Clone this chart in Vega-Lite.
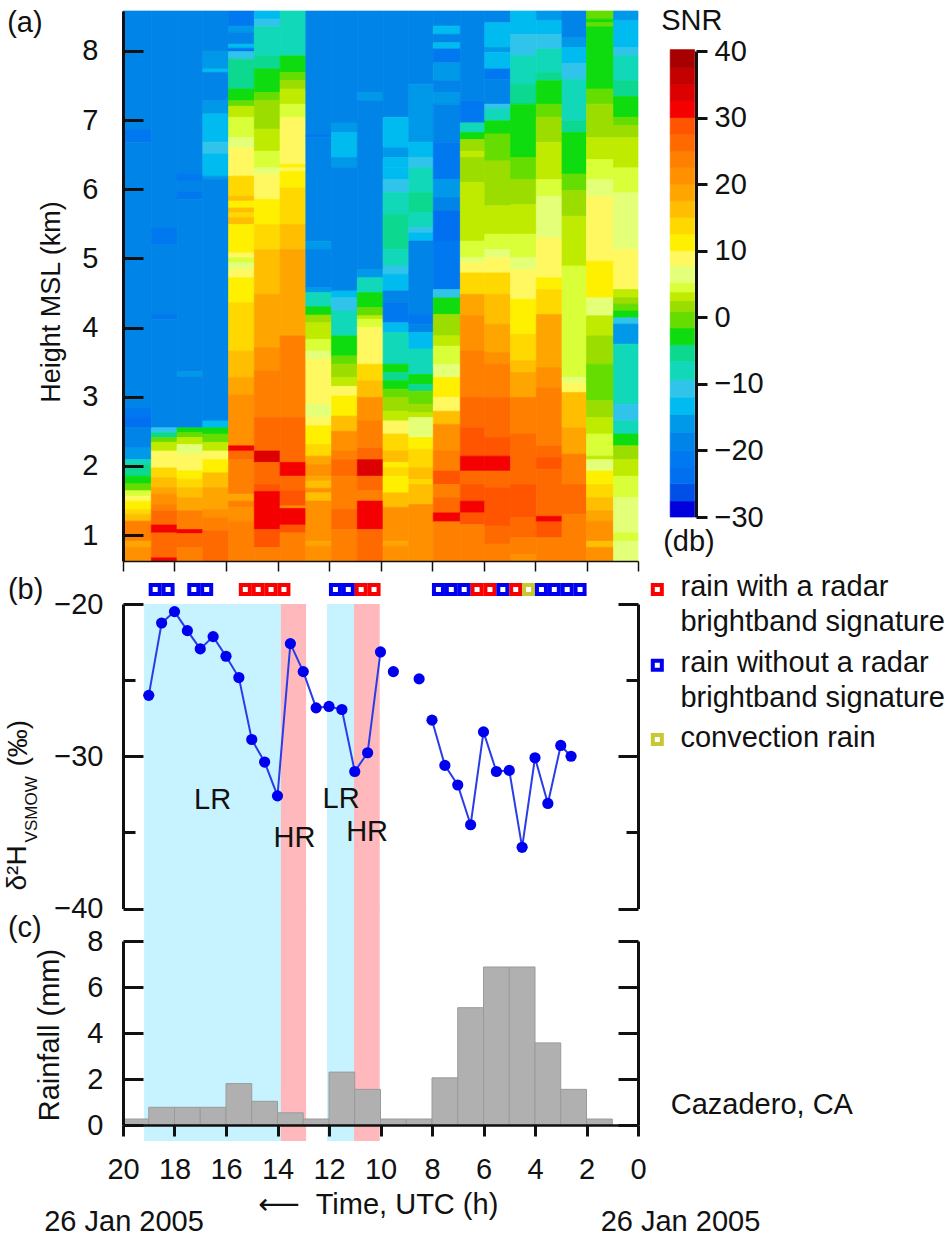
{
  "$schema": "https://vega.github.io/schema/vega-lite/v6.json",
  "background": "white",
  "padding": {"left": 3, "top": 7, "right": 0, "bottom": 0},
  "bounds": "flush",
  "spacing": 32,
  "config": {
    "view": {"stroke": null},
    "font": "Liberation Sans",
    "axis": {
      "labelFont": "Liberation Sans",
      "labelFontSize": 29,
      "labelColor": "#111111",
      "domainColor": "#111111",
      "tickColor": "#111111",
      "domainWidth": 3,
      "tickWidth": 3,
      "grid": false,
      "title": null
    },
    "text": {"font": "Liberation Sans", "fontSize": 29, "color": "#111111"}
  },
  "datasets": {
    "cells": [
      {"t0":20,"t1":18.9,"h0":6.87,"h1":8.578,"snr":-18.75},{"t0":20,"t1":18.9,"h0":6.68,"h1":6.87,"snr":-21.25},{"t0":20,"t1":18.9,"h0":2.84,"h1":6.68,"snr":-18.75},{"t0":20,"t1":18.9,"h0":2.70,"h1":2.84,"snr":-21.25},{"t0":20,"t1":18.9,"h0":2.55,"h1":2.70,"snr":-23.75},{"t0":20,"t1":18.9,"h0":2.26,"h1":2.55,"snr":-18.75},{"t0":20,"t1":18.9,"h0":2.09,"h1":2.26,"snr":-16},{"t0":20,"t1":18.9,"h0":2.02,"h1":2.09,"snr":-8},{"t0":20,"t1":18.9,"h0":1.85,"h1":2.02,"snr":-5.3},{"t0":20,"t1":18.9,"h0":1.74,"h1":1.85,"snr":-2.8},{"t0":20,"t1":18.9,"h0":1.64,"h1":1.74,"snr":-0.3},{"t0":20,"t1":18.9,"h0":1.56,"h1":1.64,"snr":4.5},{"t0":20,"t1":18.9,"h0":1.49,"h1":1.56,"snr":8.75},{"t0":20,"t1":18.9,"h0":1.37,"h1":1.49,"snr":11.25},{"t0":20,"t1":18.9,"h0":1.30,"h1":1.37,"snr":13.75},{"t0":20,"t1":18.9,"h0":1.20,"h1":1.30,"snr":16.25},{"t0":20,"t1":18.9,"h0":0.91,"h1":1.20,"snr":23.75},{"t0":20,"t1":18.9,"h0":0.82,"h1":0.91,"snr":18.75},{"t0":20,"t1":18.9,"h0":0.624,"h1":0.82,"snr":21.25},
      {"t0":18.9,"t1":17.9,"h0":5.44,"h1":8.578,"snr":-18.75},{"t0":18.9,"t1":17.9,"h0":5.20,"h1":5.44,"snr":-21.25},{"t0":18.9,"t1":17.9,"h0":4.19,"h1":5.20,"snr":-18.75},{"t0":18.9,"t1":17.9,"h0":4.12,"h1":4.19,"snr":-21.25},{"t0":18.9,"t1":17.9,"h0":2.55,"h1":4.12,"snr":-18.75},{"t0":18.9,"t1":17.9,"h0":2.48,"h1":2.55,"snr":-10.7},{"t0":18.9,"t1":17.9,"h0":2.41,"h1":2.48,"snr":-5.3},{"t0":18.9,"t1":17.9,"h0":2.34,"h1":2.41,"snr":-0.3},{"t0":18.9,"t1":17.9,"h0":2.215,"h1":2.34,"snr":3.2},{"t0":18.9,"t1":17.9,"h0":1.97,"h1":2.215,"snr":8.75},{"t0":18.9,"t1":17.9,"h0":1.83,"h1":1.97,"snr":13.75},{"t0":18.9,"t1":17.9,"h0":1.685,"h1":1.83,"snr":16.25},{"t0":18.9,"t1":17.9,"h0":1.59,"h1":1.685,"snr":18.75},{"t0":18.9,"t1":17.9,"h0":1.44,"h1":1.59,"snr":21.25},{"t0":18.9,"t1":17.9,"h0":1.35,"h1":1.44,"snr":23.75},{"t0":18.9,"t1":17.9,"h0":1.145,"h1":1.35,"snr":26.25},{"t0":18.9,"t1":17.9,"h0":1.03,"h1":1.145,"snr":31.25},{"t0":18.9,"t1":17.9,"h0":0.67,"h1":1.03,"snr":26.25},{"t0":18.9,"t1":17.9,"h0":0.624,"h1":0.67,"snr":31.25},
      {"t0":17.9,"t1":16.9,"h0":6.22,"h1":8.578,"snr":-18.75},{"t0":17.9,"t1":16.9,"h0":6.12,"h1":6.22,"snr":-21.25},{"t0":17.9,"t1":16.9,"h0":5.97,"h1":6.12,"snr":-18.75},{"t0":17.9,"t1":16.9,"h0":5.855,"h1":5.97,"snr":-21.25},{"t0":17.9,"t1":16.9,"h0":3.36,"h1":5.855,"snr":-18.75},{"t0":17.9,"t1":16.9,"h0":3.29,"h1":3.36,"snr":-16},{"t0":17.9,"t1":16.9,"h0":2.55,"h1":3.29,"snr":-18.75},{"t0":17.9,"t1":16.9,"h0":2.48,"h1":2.55,"snr":-2.8},{"t0":17.9,"t1":16.9,"h0":2.41,"h1":2.48,"snr":-0.3},{"t0":17.9,"t1":16.9,"h0":2.31,"h1":2.41,"snr":3.2},{"t0":17.9,"t1":16.9,"h0":2.17,"h1":2.31,"snr":6.3},{"t0":17.9,"t1":16.9,"h0":1.93,"h1":2.17,"snr":8.75},{"t0":17.9,"t1":16.9,"h0":1.805,"h1":1.93,"snr":11.25},{"t0":17.9,"t1":16.9,"h0":1.685,"h1":1.805,"snr":13.75},{"t0":17.9,"t1":16.9,"h0":1.54,"h1":1.685,"snr":16.25},{"t0":17.9,"t1":16.9,"h0":1.35,"h1":1.54,"snr":18.75},{"t0":17.9,"t1":16.9,"h0":1.08,"h1":1.35,"snr":23.75},{"t0":17.9,"t1":16.9,"h0":1.02,"h1":1.08,"snr":31.25},{"t0":17.9,"t1":16.9,"h0":0.82,"h1":1.02,"snr":26.25},{"t0":17.9,"t1":16.9,"h0":0.624,"h1":0.82,"snr":23.75},
      {"t0":16.9,"t1":15.9,"h0":8.0,"h1":8.578,"snr":-18.75},{"t0":16.9,"t1":15.9,"h0":7.74,"h1":8.0,"snr":-16},{"t0":16.9,"t1":15.9,"h0":7.69,"h1":7.74,"snr":-13.3},{"t0":16.9,"t1":15.9,"h0":7.28,"h1":7.69,"snr":-18.75},{"t0":16.9,"t1":15.9,"h0":7.09,"h1":7.28,"snr":-16},{"t0":16.9,"t1":15.9,"h0":6.68,"h1":7.09,"snr":-13.3},{"t0":16.9,"t1":15.9,"h0":6.51,"h1":6.68,"snr":-10.7},{"t0":16.9,"t1":15.9,"h0":6.19,"h1":6.51,"snr":-13.3},{"t0":16.9,"t1":15.9,"h0":6.14,"h1":6.19,"snr":-16},{"t0":16.9,"t1":15.9,"h0":2.65,"h1":6.14,"snr":-18.75},{"t0":16.9,"t1":15.9,"h0":2.55,"h1":2.65,"snr":-13.3},{"t0":16.9,"t1":15.9,"h0":2.46,"h1":2.55,"snr":-2.8},{"t0":16.9,"t1":15.9,"h0":2.34,"h1":2.46,"snr":-0.3},{"t0":16.9,"t1":15.9,"h0":2.215,"h1":2.34,"snr":3.2},{"t0":16.9,"t1":15.9,"h0":2.09,"h1":2.215,"snr":8.75},{"t0":16.9,"t1":15.9,"h0":1.90,"h1":2.09,"snr":11.25},{"t0":16.9,"t1":15.9,"h0":1.685,"h1":1.90,"snr":16.25},{"t0":16.9,"t1":15.9,"h0":1.37,"h1":1.685,"snr":18.75},{"t0":16.9,"t1":15.9,"h0":1.25,"h1":1.37,"snr":21.25},{"t0":16.9,"t1":15.9,"h0":1.06,"h1":1.25,"snr":23.75},{"t0":16.9,"t1":15.9,"h0":0.624,"h1":1.06,"snr":26.25},
      {"t0":15.9,"t1":14.9,"h0":8.36,"h1":8.578,"snr":-21.25},{"t0":15.9,"t1":14.9,"h0":8.27,"h1":8.36,"snr":-16},{"t0":15.9,"t1":14.9,"h0":8.10,"h1":8.27,"snr":-18.75},{"t0":15.9,"t1":14.9,"h0":8.04,"h1":8.10,"snr":-13.3},{"t0":15.9,"t1":14.9,"h0":7.99,"h1":8.04,"snr":-21.25},{"t0":15.9,"t1":14.9,"h0":7.88,"h1":7.99,"snr":-10.7},{"t0":15.9,"t1":14.9,"h0":7.45,"h1":7.88,"snr":-5.3},{"t0":15.9,"t1":14.9,"h0":7.28,"h1":7.45,"snr":-2.8},{"t0":15.9,"t1":14.9,"h0":7.20,"h1":7.28,"snr":-0.3},{"t0":15.9,"t1":14.9,"h0":7.04,"h1":7.20,"snr":3.2},{"t0":15.9,"t1":14.9,"h0":6.75,"h1":7.04,"snr":4.5},{"t0":15.9,"t1":14.9,"h0":6.60,"h1":6.75,"snr":6.3},{"t0":15.9,"t1":14.9,"h0":6.19,"h1":6.60,"snr":8.75},{"t0":15.9,"t1":14.9,"h0":5.90,"h1":6.19,"snr":13.75},{"t0":15.9,"t1":14.9,"h0":5.83,"h1":5.90,"snr":16.25},{"t0":15.9,"t1":14.9,"h0":5.73,"h1":5.83,"snr":11.25},{"t0":15.9,"t1":14.9,"h0":5.66,"h1":5.73,"snr":16.25},{"t0":15.9,"t1":14.9,"h0":5.59,"h1":5.66,"snr":13.75},{"t0":15.9,"t1":14.9,"h0":5.49,"h1":5.59,"snr":16.25},{"t0":15.9,"t1":14.9,"h0":5.08,"h1":5.49,"snr":11.25},{"t0":15.9,"t1":14.9,"h0":5.01,"h1":5.08,"snr":8.75},{"t0":15.9,"t1":14.9,"h0":4.94,"h1":5.01,"snr":4.5},{"t0":15.9,"t1":14.9,"h0":4.84,"h1":4.94,"snr":6.3},{"t0":15.9,"t1":14.9,"h0":4.72,"h1":4.84,"snr":8.75},{"t0":15.9,"t1":14.9,"h0":4.36,"h1":4.72,"snr":11.25},{"t0":15.9,"t1":14.9,"h0":3.66,"h1":4.36,"snr":13.75},{"t0":15.9,"t1":14.9,"h0":3.28,"h1":3.66,"snr":16.25},{"t0":15.9,"t1":14.9,"h0":3.03,"h1":3.28,"snr":18.75},{"t0":15.9,"t1":14.9,"h0":2.29,"h1":3.03,"snr":21.25},{"t0":15.9,"t1":14.9,"h0":2.215,"h1":2.29,"snr":31.25},{"t0":15.9,"t1":14.9,"h0":2.09,"h1":2.215,"snr":26.25},{"t0":15.9,"t1":14.9,"h0":1.59,"h1":2.09,"snr":23.75},{"t0":15.9,"t1":14.9,"h0":1.49,"h1":1.59,"snr":18.75},{"t0":15.9,"t1":14.9,"h0":1.40,"h1":1.49,"snr":23.75},{"t0":15.9,"t1":14.9,"h0":1.20,"h1":1.40,"snr":21.25},{"t0":15.9,"t1":14.9,"h0":0.624,"h1":1.20,"snr":23.75},
      {"t0":14.9,"t1":13.9,"h0":8.46,"h1":8.578,"snr":-13.3},{"t0":14.9,"t1":13.9,"h0":8.35,"h1":8.46,"snr":-10.7},{"t0":14.9,"t1":13.9,"h0":7.93,"h1":8.35,"snr":-8},{"t0":14.9,"t1":13.9,"h0":7.74,"h1":7.93,"snr":-5.3},{"t0":14.9,"t1":13.9,"h0":7.40,"h1":7.74,"snr":-2.8},{"t0":14.9,"t1":13.9,"h0":7.28,"h1":7.40,"snr":-0.3},{"t0":14.9,"t1":13.9,"h0":6.87,"h1":7.28,"snr":1.7},{"t0":14.9,"t1":13.9,"h0":6.55,"h1":6.87,"snr":3.2},{"t0":14.9,"t1":13.9,"h0":6.31,"h1":6.55,"snr":4.5},{"t0":14.9,"t1":13.9,"h0":6.22,"h1":6.31,"snr":6.3},{"t0":14.9,"t1":13.9,"h0":5.855,"h1":6.22,"snr":8.75},{"t0":14.9,"t1":13.9,"h0":5.49,"h1":5.855,"snr":11.25},{"t0":14.9,"t1":13.9,"h0":5.13,"h1":5.49,"snr":13.75},{"t0":14.9,"t1":13.9,"h0":4.48,"h1":5.13,"snr":16.25},{"t0":14.9,"t1":13.9,"h0":3.71,"h1":4.48,"snr":18.75},{"t0":14.9,"t1":13.9,"h0":3.37,"h1":3.71,"snr":21.25},{"t0":14.9,"t1":13.9,"h0":2.70,"h1":3.37,"snr":23.75},{"t0":14.9,"t1":13.9,"h0":2.215,"h1":2.70,"snr":26.25},{"t0":14.9,"t1":13.9,"h0":2.05,"h1":2.215,"snr":33.75},{"t0":14.9,"t1":13.9,"h0":1.73,"h1":2.05,"snr":26.25},{"t0":14.9,"t1":13.9,"h0":1.63,"h1":1.73,"snr":28.75},{"t0":14.9,"t1":13.9,"h0":1.08,"h1":1.63,"snr":31.25},{"t0":14.9,"t1":13.9,"h0":0.82,"h1":1.08,"snr":28.75},{"t0":14.9,"t1":13.9,"h0":0.624,"h1":0.82,"snr":23.75},
      {"t0":13.9,"t1":12.9,"h0":7.93,"h1":8.578,"snr":-8},{"t0":13.9,"t1":12.9,"h0":7.69,"h1":7.93,"snr":-2.8},{"t0":13.9,"t1":12.9,"h0":7.57,"h1":7.69,"snr":-0.3},{"t0":13.9,"t1":12.9,"h0":7.45,"h1":7.57,"snr":1.7},{"t0":13.9,"t1":12.9,"h0":7.23,"h1":7.45,"snr":3.2},{"t0":13.9,"t1":12.9,"h0":7.04,"h1":7.23,"snr":4.5},{"t0":13.9,"t1":12.9,"h0":6.36,"h1":7.04,"snr":8.75},{"t0":13.9,"t1":12.9,"h0":6.31,"h1":6.36,"snr":11.25},{"t0":13.9,"t1":12.9,"h0":6.26,"h1":6.31,"snr":8.75},{"t0":13.9,"t1":12.9,"h0":6.02,"h1":6.26,"snr":11.25},{"t0":13.9,"t1":12.9,"h0":5.49,"h1":6.02,"snr":13.75},{"t0":13.9,"t1":12.9,"h0":5.13,"h1":5.49,"snr":16.25},{"t0":13.9,"t1":12.9,"h0":3.88,"h1":5.13,"snr":18.75},{"t0":13.9,"t1":12.9,"h0":2.70,"h1":3.88,"snr":23.75},{"t0":13.9,"t1":12.9,"h0":2.05,"h1":2.70,"snr":26.25},{"t0":13.9,"t1":12.9,"h0":1.85,"h1":2.05,"snr":31.25},{"t0":13.9,"t1":12.9,"h0":1.64,"h1":1.85,"snr":26.25},{"t0":13.9,"t1":12.9,"h0":1.42,"h1":1.64,"snr":28.75},{"t0":13.9,"t1":12.9,"h0":1.385,"h1":1.42,"snr":21.25},{"t0":13.9,"t1":12.9,"h0":1.145,"h1":1.385,"snr":31.25},{"t0":13.9,"t1":12.9,"h0":1.03,"h1":1.145,"snr":28.75},{"t0":13.9,"t1":12.9,"h0":0.624,"h1":1.03,"snr":23.75},
      {"t0":12.9,"t1":11.9,"h0":6.79,"h1":8.578,"snr":-18.75},{"t0":12.9,"t1":11.9,"h0":6.75,"h1":6.79,"snr":-21.25},{"t0":12.9,"t1":11.9,"h0":5.25,"h1":6.75,"snr":-18.75},{"t0":12.9,"t1":11.9,"h0":5.13,"h1":5.25,"snr":-16},{"t0":12.9,"t1":11.9,"h0":4.58,"h1":5.13,"snr":-18.75},{"t0":12.9,"t1":11.9,"h0":4.505,"h1":4.58,"snr":-16},{"t0":12.9,"t1":11.9,"h0":4.30,"h1":4.505,"snr":-8},{"t0":12.9,"t1":11.9,"h0":4.18,"h1":4.30,"snr":-2.8},{"t0":12.9,"t1":11.9,"h0":4.07,"h1":4.18,"snr":1.7},{"t0":12.9,"t1":11.9,"h0":3.83,"h1":4.07,"snr":3.2},{"t0":12.9,"t1":11.9,"h0":3.66,"h1":3.83,"snr":4.5},{"t0":12.9,"t1":11.9,"h0":3.54,"h1":3.66,"snr":6.3},{"t0":12.9,"t1":11.9,"h0":2.89,"h1":3.54,"snr":8.75},{"t0":12.9,"t1":11.9,"h0":2.70,"h1":2.89,"snr":6.3},{"t0":12.9,"t1":11.9,"h0":2.58,"h1":2.70,"snr":8.75},{"t0":12.9,"t1":11.9,"h0":2.31,"h1":2.58,"snr":11.25},{"t0":12.9,"t1":11.9,"h0":2.14,"h1":2.31,"snr":13.75},{"t0":12.9,"t1":11.9,"h0":2.02,"h1":2.14,"snr":18.75},{"t0":12.9,"t1":11.9,"h0":1.85,"h1":2.02,"snr":21.25},{"t0":12.9,"t1":11.9,"h0":1.78,"h1":1.85,"snr":18.75},{"t0":12.9,"t1":11.9,"h0":1.675,"h1":1.78,"snr":16.25},{"t0":12.9,"t1":11.9,"h0":1.61,"h1":1.675,"snr":21.25},{"t0":12.9,"t1":11.9,"h0":1.49,"h1":1.61,"snr":16.25},{"t0":12.9,"t1":11.9,"h0":0.91,"h1":1.49,"snr":21.25},{"t0":12.9,"t1":11.9,"h0":0.84,"h1":0.91,"snr":18.75},{"t0":12.9,"t1":11.9,"h0":0.624,"h1":0.84,"snr":21.25},
      {"t0":11.9,"t1":10.9,"h0":6.96,"h1":8.578,"snr":-18.75},{"t0":11.9,"t1":10.9,"h0":6.82,"h1":6.96,"snr":-16},{"t0":11.9,"t1":10.9,"h0":6.46,"h1":6.82,"snr":-13.3},{"t0":11.9,"t1":10.9,"h0":6.31,"h1":6.46,"snr":-16},{"t0":11.9,"t1":10.9,"h0":4.53,"h1":6.31,"snr":-18.75},{"t0":11.9,"t1":10.9,"h0":4.43,"h1":4.53,"snr":-13.3},{"t0":11.9,"t1":10.9,"h0":4.24,"h1":4.43,"snr":-10.7},{"t0":11.9,"t1":10.9,"h0":3.88,"h1":4.24,"snr":-8},{"t0":11.9,"t1":10.9,"h0":3.59,"h1":3.88,"snr":-2.8},{"t0":11.9,"t1":10.9,"h0":3.47,"h1":3.59,"snr":-0.3},{"t0":11.9,"t1":10.9,"h0":3.28,"h1":3.47,"snr":1.7},{"t0":11.9,"t1":10.9,"h0":3.15,"h1":3.28,"snr":3.2},{"t0":11.9,"t1":10.9,"h0":3.01,"h1":3.15,"snr":8.75},{"t0":11.9,"t1":10.9,"h0":2.72,"h1":3.01,"snr":11.25},{"t0":11.9,"t1":10.9,"h0":2.50,"h1":2.72,"snr":16.25},{"t0":11.9,"t1":10.9,"h0":2.215,"h1":2.50,"snr":21.25},{"t0":11.9,"t1":10.9,"h0":2.09,"h1":2.215,"snr":23.75},{"t0":11.9,"t1":10.9,"h0":1.85,"h1":2.09,"snr":26.25},{"t0":11.9,"t1":10.9,"h0":1.37,"h1":1.85,"snr":23.75},{"t0":11.9,"t1":10.9,"h0":1.08,"h1":1.37,"snr":26.25},{"t0":11.9,"t1":10.9,"h0":0.624,"h1":1.08,"snr":23.75},
      {"t0":10.9,"t1":9.9,"h0":7.40,"h1":8.578,"snr":-18.75},{"t0":10.9,"t1":9.9,"h0":7.28,"h1":7.40,"snr":-16},{"t0":10.9,"t1":9.9,"h0":4.84,"h1":7.28,"snr":-18.75},{"t0":10.9,"t1":9.9,"h0":4.72,"h1":4.84,"snr":-16},{"t0":10.9,"t1":9.9,"h0":4.505,"h1":4.72,"snr":-8},{"t0":10.9,"t1":9.9,"h0":4.29,"h1":4.505,"snr":-2.8},{"t0":10.9,"t1":9.9,"h0":4.17,"h1":4.29,"snr":-0.3},{"t0":10.9,"t1":9.9,"h0":4.12,"h1":4.17,"snr":3.2},{"t0":10.9,"t1":9.9,"h0":4.0,"h1":4.12,"snr":4.5},{"t0":10.9,"t1":9.9,"h0":3.47,"h1":4.0,"snr":8.75},{"t0":10.9,"t1":9.9,"h0":3.23,"h1":3.47,"snr":13.75},{"t0":10.9,"t1":9.9,"h0":2.99,"h1":3.23,"snr":16.25},{"t0":10.9,"t1":9.9,"h0":2.65,"h1":2.99,"snr":21.25},{"t0":10.9,"t1":9.9,"h0":2.26,"h1":2.65,"snr":23.75},{"t0":10.9,"t1":9.9,"h0":2.09,"h1":2.26,"snr":26.25},{"t0":10.9,"t1":9.9,"h0":1.85,"h1":2.09,"snr":33.75},{"t0":10.9,"t1":9.9,"h0":1.64,"h1":1.85,"snr":26.25},{"t0":10.9,"t1":9.9,"h0":1.49,"h1":1.64,"snr":23.75},{"t0":10.9,"t1":9.9,"h0":1.08,"h1":1.49,"snr":31.25},{"t0":10.9,"t1":9.9,"h0":0.624,"h1":1.08,"snr":26.25},
      {"t0":9.9,"t1":8.9,"h0":7.04,"h1":8.578,"snr":-18.75},{"t0":9.9,"t1":8.9,"h0":6.60,"h1":7.04,"snr":-13.3},{"t0":9.9,"t1":8.9,"h0":6.46,"h1":6.60,"snr":-16},{"t0":9.9,"t1":8.9,"h0":6.31,"h1":6.46,"snr":-13.3},{"t0":9.9,"t1":8.9,"h0":6.14,"h1":6.31,"snr":-13.3},{"t0":9.9,"t1":8.9,"h0":5.95,"h1":6.14,"snr":-10.7},{"t0":9.9,"t1":8.9,"h0":5.64,"h1":5.95,"snr":-8},{"t0":9.9,"t1":8.9,"h0":5.13,"h1":5.64,"snr":-5.3},{"t0":9.9,"t1":8.9,"h0":4.89,"h1":5.13,"snr":-8},{"t0":9.9,"t1":8.9,"h0":4.77,"h1":4.89,"snr":-10.7},{"t0":9.9,"t1":8.9,"h0":4.53,"h1":4.77,"snr":-13.3},{"t0":9.9,"t1":8.9,"h0":4.36,"h1":4.53,"snr":-18.75},{"t0":9.9,"t1":8.9,"h0":4.07,"h1":4.36,"snr":-21.25},{"t0":9.9,"t1":8.9,"h0":3.93,"h1":4.07,"snr":-13.3},{"t0":9.9,"t1":8.9,"h0":3.47,"h1":3.93,"snr":-8},{"t0":9.9,"t1":8.9,"h0":3.35,"h1":3.47,"snr":-2.8},{"t0":9.9,"t1":8.9,"h0":3.23,"h1":3.35,"snr":-5.3},{"t0":9.9,"t1":8.9,"h0":3.11,"h1":3.23,"snr":-2.8},{"t0":9.9,"t1":8.9,"h0":2.99,"h1":3.11,"snr":-0.3},{"t0":9.9,"t1":8.9,"h0":2.79,"h1":2.99,"snr":1.7},{"t0":9.9,"t1":8.9,"h0":2.65,"h1":2.79,"snr":3.2},{"t0":9.9,"t1":8.9,"h0":2.46,"h1":2.65,"snr":8.75},{"t0":9.9,"t1":8.9,"h0":2.215,"h1":2.46,"snr":13.75},{"t0":9.9,"t1":8.9,"h0":2.05,"h1":2.215,"snr":16.25},{"t0":9.9,"t1":8.9,"h0":1.975,"h1":2.05,"snr":11.25},{"t0":9.9,"t1":8.9,"h0":1.85,"h1":1.975,"snr":13.75},{"t0":9.9,"t1":8.9,"h0":1.61,"h1":1.85,"snr":11.25},{"t0":9.9,"t1":8.9,"h0":1.40,"h1":1.61,"snr":16.25},{"t0":9.9,"t1":8.9,"h0":0.91,"h1":1.40,"snr":21.25},{"t0":9.9,"t1":8.9,"h0":0.84,"h1":0.91,"snr":18.75},{"t0":9.9,"t1":8.9,"h0":0.624,"h1":0.84,"snr":21.25},
      {"t0":8.9,"t1":7.95,"h0":7.52,"h1":8.578,"snr":-18.75},{"t0":8.9,"t1":7.95,"h0":6.68,"h1":7.52,"snr":-16},{"t0":8.9,"t1":7.95,"h0":6.46,"h1":6.68,"snr":-13.3},{"t0":8.9,"t1":7.95,"h0":6.31,"h1":6.46,"snr":-10.7},{"t0":8.9,"t1":7.95,"h0":5.95,"h1":6.31,"snr":-8},{"t0":8.9,"t1":7.95,"h0":5.66,"h1":5.95,"snr":-5.3},{"t0":8.9,"t1":7.95,"h0":5.45,"h1":5.66,"snr":-8},{"t0":8.9,"t1":7.95,"h0":5.37,"h1":5.45,"snr":-10.7},{"t0":8.9,"t1":7.95,"h0":5.25,"h1":5.37,"snr":-13.3},{"t0":8.9,"t1":7.95,"h0":4.19,"h1":5.25,"snr":-18.75},{"t0":8.9,"t1":7.95,"h0":4.05,"h1":4.19,"snr":-21.25},{"t0":8.9,"t1":7.95,"h0":3.93,"h1":4.05,"snr":-18.75},{"t0":8.9,"t1":7.95,"h0":3.69,"h1":3.93,"snr":-13.3},{"t0":8.9,"t1":7.95,"h0":3.32,"h1":3.69,"snr":-8},{"t0":8.9,"t1":7.95,"h0":3.18,"h1":3.32,"snr":-2.8},{"t0":8.9,"t1":7.95,"h0":3.08,"h1":3.18,"snr":-5.3},{"t0":8.9,"t1":7.95,"h0":2.89,"h1":3.08,"snr":-0.3},{"t0":8.9,"t1":7.95,"h0":2.77,"h1":2.89,"snr":1.7},{"t0":8.9,"t1":7.95,"h0":2.70,"h1":2.77,"snr":3.2},{"t0":8.9,"t1":7.95,"h0":2.41,"h1":2.70,"snr":6.3},{"t0":8.9,"t1":7.95,"h0":2.24,"h1":2.41,"snr":11.25},{"t0":8.9,"t1":7.95,"h0":1.975,"h1":2.24,"snr":13.75},{"t0":8.9,"t1":7.95,"h0":1.805,"h1":1.975,"snr":16.25},{"t0":8.9,"t1":7.95,"h0":1.73,"h1":1.805,"snr":13.75},{"t0":8.9,"t1":7.95,"h0":1.44,"h1":1.73,"snr":16.25},{"t0":8.9,"t1":7.95,"h0":0.624,"h1":1.44,"snr":21.25},
      {"t0":7.95,"t1":6.9,"h0":8.36,"h1":8.578,"snr":-18.75},{"t0":7.95,"t1":6.9,"h0":8.24,"h1":8.36,"snr":-13.3},{"t0":7.95,"t1":6.9,"h0":8.12,"h1":8.24,"snr":-18.75},{"t0":7.95,"t1":6.9,"h0":8.03,"h1":8.12,"snr":-13.3},{"t0":7.95,"t1":6.9,"h0":7.83,"h1":8.03,"snr":-21.25},{"t0":7.95,"t1":6.9,"h0":7.57,"h1":7.83,"snr":-16},{"t0":7.95,"t1":6.9,"h0":7.40,"h1":7.57,"snr":-18.75},{"t0":7.95,"t1":6.9,"h0":7.23,"h1":7.40,"snr":-16},{"t0":7.95,"t1":6.9,"h0":6.68,"h1":7.23,"snr":-18.75},{"t0":7.95,"t1":6.9,"h0":6.14,"h1":6.68,"snr":-21.25},{"t0":7.95,"t1":6.9,"h0":5.88,"h1":6.14,"snr":-16},{"t0":7.95,"t1":6.9,"h0":5.69,"h1":5.88,"snr":-18.75},{"t0":7.95,"t1":6.9,"h0":5.25,"h1":5.69,"snr":-23.75},{"t0":7.95,"t1":6.9,"h0":4.55,"h1":5.25,"snr":-21.25},{"t0":7.95,"t1":6.9,"h0":4.43,"h1":4.55,"snr":-10.7},{"t0":7.95,"t1":6.9,"h0":4.19,"h1":4.43,"snr":-2.8},{"t0":7.95,"t1":6.9,"h0":3.88,"h1":4.19,"snr":1.7},{"t0":7.95,"t1":6.9,"h0":3.73,"h1":3.88,"snr":3.2},{"t0":7.95,"t1":6.9,"h0":3.47,"h1":3.73,"snr":4.5},{"t0":7.95,"t1":6.9,"h0":3.28,"h1":3.47,"snr":6.3},{"t0":7.95,"t1":6.9,"h0":2.99,"h1":3.28,"snr":11.25},{"t0":7.95,"t1":6.9,"h0":2.79,"h1":2.99,"snr":8.75},{"t0":7.95,"t1":6.9,"h0":2.60,"h1":2.79,"snr":16.25},{"t0":7.95,"t1":6.9,"h0":2.215,"h1":2.60,"snr":21.25},{"t0":7.95,"t1":6.9,"h0":1.925,"h1":2.215,"snr":23.75},{"t0":7.95,"t1":6.9,"h0":1.73,"h1":1.925,"snr":28.75},{"t0":7.95,"t1":6.9,"h0":1.54,"h1":1.73,"snr":23.75},{"t0":7.95,"t1":6.9,"h0":1.32,"h1":1.54,"snr":26.25},{"t0":7.95,"t1":6.9,"h0":1.19,"h1":1.32,"snr":31.25},{"t0":7.95,"t1":6.9,"h0":0.624,"h1":1.19,"snr":23.75},
      {"t0":6.9,"t1":5.95,"h0":7.28,"h1":8.578,"snr":-18.75},{"t0":6.9,"t1":5.95,"h0":6.96,"h1":7.28,"snr":-21.25},{"t0":6.9,"t1":5.95,"h0":6.82,"h1":6.96,"snr":-8},{"t0":6.9,"t1":5.95,"h0":6.72,"h1":6.82,"snr":-2.8},{"t0":6.9,"t1":5.95,"h0":6.55,"h1":6.72,"snr":1.7},{"t0":6.9,"t1":5.95,"h0":6.46,"h1":6.55,"snr":3.2},{"t0":6.9,"t1":5.95,"h0":6.10,"h1":6.46,"snr":1.7},{"t0":6.9,"t1":5.95,"h0":5.25,"h1":6.10,"snr":3.2},{"t0":6.9,"t1":5.95,"h0":5.01,"h1":5.25,"snr":4.5},{"t0":6.9,"t1":5.95,"h0":4.94,"h1":5.01,"snr":6.3},{"t0":6.9,"t1":5.95,"h0":4.79,"h1":4.94,"snr":8.75},{"t0":6.9,"t1":5.95,"h0":4.48,"h1":4.79,"snr":13.75},{"t0":6.9,"t1":5.95,"h0":4.17,"h1":4.48,"snr":18.75},{"t0":6.9,"t1":5.95,"h0":3.66,"h1":4.17,"snr":21.25},{"t0":6.9,"t1":5.95,"h0":2.99,"h1":3.66,"snr":23.75},{"t0":6.9,"t1":5.95,"h0":2.55,"h1":2.99,"snr":26.25},{"t0":6.9,"t1":5.95,"h0":2.14,"h1":2.55,"snr":28.75},{"t0":6.9,"t1":5.95,"h0":1.925,"h1":2.14,"snr":31.25},{"t0":6.9,"t1":5.95,"h0":1.73,"h1":1.925,"snr":26.25},{"t0":6.9,"t1":5.95,"h0":1.49,"h1":1.73,"snr":28.75},{"t0":6.9,"t1":5.95,"h0":1.32,"h1":1.49,"snr":31.25},{"t0":6.9,"t1":5.95,"h0":1.15,"h1":1.32,"snr":28.75},{"t0":6.9,"t1":5.95,"h0":0.624,"h1":1.15,"snr":23.75},
      {"t0":5.95,"t1":4.95,"h0":8.41,"h1":8.578,"snr":-18.75},{"t0":5.95,"t1":4.95,"h0":8.05,"h1":8.41,"snr":-13.3},{"t0":5.95,"t1":4.95,"h0":7.98,"h1":8.05,"snr":-16},{"t0":5.95,"t1":4.95,"h0":7.74,"h1":7.98,"snr":-13.3},{"t0":5.95,"t1":4.95,"h0":7.59,"h1":7.74,"snr":-21.25},{"t0":5.95,"t1":4.95,"h0":7.23,"h1":7.59,"snr":-18.75},{"t0":5.95,"t1":4.95,"h0":7.16,"h1":7.23,"snr":-10.7},{"t0":5.95,"t1":4.95,"h0":6.99,"h1":7.16,"snr":-8},{"t0":5.95,"t1":4.95,"h0":6.80,"h1":6.99,"snr":-2.8},{"t0":5.95,"t1":4.95,"h0":6.41,"h1":6.80,"snr":-0.3},{"t0":5.95,"t1":4.95,"h0":5.76,"h1":6.41,"snr":1.7},{"t0":5.95,"t1":4.95,"h0":5.35,"h1":5.76,"snr":3.2},{"t0":5.95,"t1":4.95,"h0":5.13,"h1":5.35,"snr":4.5},{"t0":5.95,"t1":4.95,"h0":5.01,"h1":5.13,"snr":6.3},{"t0":5.95,"t1":4.95,"h0":4.79,"h1":5.01,"snr":8.75},{"t0":5.95,"t1":4.95,"h0":4.48,"h1":4.79,"snr":13.75},{"t0":5.95,"t1":4.95,"h0":4.05,"h1":4.48,"snr":16.25},{"t0":5.95,"t1":4.95,"h0":3.64,"h1":4.05,"snr":18.75},{"t0":5.95,"t1":4.95,"h0":3.47,"h1":3.64,"snr":21.25},{"t0":5.95,"t1":4.95,"h0":2.99,"h1":3.47,"snr":23.75},{"t0":5.95,"t1":4.95,"h0":2.41,"h1":2.99,"snr":26.25},{"t0":5.95,"t1":4.95,"h0":2.14,"h1":2.41,"snr":28.75},{"t0":5.95,"t1":4.95,"h0":1.925,"h1":2.14,"snr":31.25},{"t0":5.95,"t1":4.95,"h0":1.685,"h1":1.925,"snr":26.25},{"t0":5.95,"t1":4.95,"h0":1.13,"h1":1.685,"snr":28.75},{"t0":5.95,"t1":4.95,"h0":0.87,"h1":1.13,"snr":26.25},{"t0":5.95,"t1":4.95,"h0":0.624,"h1":0.87,"snr":23.75},
      {"t0":4.95,"t1":3.95,"h0":8.24,"h1":8.578,"snr":-13.3},{"t0":4.95,"t1":3.95,"h0":7.93,"h1":8.24,"snr":-10.7},{"t0":4.95,"t1":3.95,"h0":7.52,"h1":7.93,"snr":-8},{"t0":4.95,"t1":3.95,"h0":7.23,"h1":7.52,"snr":-5.3},{"t0":4.95,"t1":3.95,"h0":6.46,"h1":7.23,"snr":-2.8},{"t0":4.95,"t1":3.95,"h0":6.14,"h1":6.46,"snr":-0.3},{"t0":4.95,"t1":3.95,"h0":5.78,"h1":6.14,"snr":1.7},{"t0":4.95,"t1":3.95,"h0":5.35,"h1":5.78,"snr":3.2},{"t0":4.95,"t1":3.95,"h0":5.01,"h1":5.35,"snr":4.5},{"t0":4.95,"t1":3.95,"h0":4.84,"h1":5.01,"snr":6.3},{"t0":4.95,"t1":3.95,"h0":4.41,"h1":4.84,"snr":8.75},{"t0":4.95,"t1":3.95,"h0":3.90,"h1":4.41,"snr":11.25},{"t0":4.95,"t1":3.95,"h0":3.52,"h1":3.90,"snr":13.75},{"t0":4.95,"t1":3.95,"h0":3.35,"h1":3.52,"snr":16.25},{"t0":4.95,"t1":3.95,"h0":2.99,"h1":3.35,"snr":18.75},{"t0":4.95,"t1":3.95,"h0":2.46,"h1":2.99,"snr":23.75},{"t0":4.95,"t1":3.95,"h0":1.73,"h1":2.46,"snr":26.25},{"t0":4.95,"t1":3.95,"h0":1.25,"h1":1.73,"snr":28.75},{"t0":4.95,"t1":3.95,"h0":0.96,"h1":1.25,"snr":26.25},{"t0":4.95,"t1":3.95,"h0":0.72,"h1":0.96,"snr":23.75},{"t0":4.95,"t1":3.95,"h0":0.624,"h1":0.72,"snr":21.25},
      {"t0":3.95,"t1":2.95,"h0":8.44,"h1":8.578,"snr":-16},{"t0":3.95,"t1":2.95,"h0":8.24,"h1":8.44,"snr":-13.3},{"t0":3.95,"t1":2.95,"h0":8.03,"h1":8.24,"snr":-10.7},{"t0":3.95,"t1":2.95,"h0":7.69,"h1":8.03,"snr":-8},{"t0":3.95,"t1":2.95,"h0":7.57,"h1":7.69,"snr":-5.3},{"t0":3.95,"t1":2.95,"h0":7.23,"h1":7.57,"snr":-2.8},{"t0":3.95,"t1":2.95,"h0":7.04,"h1":7.23,"snr":-0.3},{"t0":3.95,"t1":2.95,"h0":6.68,"h1":7.04,"snr":1.7},{"t0":3.95,"t1":2.95,"h0":6.14,"h1":6.68,"snr":3.2},{"t0":3.95,"t1":2.95,"h0":5.90,"h1":6.14,"snr":4.5},{"t0":3.95,"t1":2.95,"h0":5.30,"h1":5.90,"snr":6.3},{"t0":3.95,"t1":2.95,"h0":4.72,"h1":5.30,"snr":8.75},{"t0":3.95,"t1":2.95,"h0":4.55,"h1":4.72,"snr":11.25},{"t0":3.95,"t1":2.95,"h0":4.19,"h1":4.55,"snr":13.75},{"t0":3.95,"t1":2.95,"h0":3.42,"h1":4.19,"snr":18.75},{"t0":3.95,"t1":2.95,"h0":3.13,"h1":3.42,"snr":21.25},{"t0":3.95,"t1":2.95,"h0":2.29,"h1":3.13,"snr":23.75},{"t0":3.95,"t1":2.95,"h0":2.12,"h1":2.29,"snr":26.25},{"t0":3.95,"t1":2.95,"h0":1.95,"h1":2.12,"snr":28.75},{"t0":3.95,"t1":2.95,"h0":1.27,"h1":1.95,"snr":26.25},{"t0":3.95,"t1":2.95,"h0":1.19,"h1":1.27,"snr":31.25},{"t0":3.95,"t1":2.95,"h0":0.96,"h1":1.19,"snr":28.75},{"t0":3.95,"t1":2.95,"h0":0.624,"h1":0.96,"snr":23.75},
      {"t0":2.95,"t1":2,"h0":8.19,"h1":8.578,"snr":-18.75},{"t0":2.95,"t1":2,"h0":8.05,"h1":8.19,"snr":-16},{"t0":2.95,"t1":2,"h0":7.82,"h1":8.05,"snr":-13.3},{"t0":2.95,"t1":2,"h0":7.59,"h1":7.82,"snr":-10.7},{"t0":2.95,"t1":2,"h0":6.99,"h1":7.59,"snr":-8},{"t0":2.95,"t1":2,"h0":6.82,"h1":6.99,"snr":-5.3},{"t0":2.95,"t1":2,"h0":6.22,"h1":6.82,"snr":-2.8},{"t0":2.95,"t1":2,"h0":5.98,"h1":6.22,"snr":-0.3},{"t0":2.95,"t1":2,"h0":5.61,"h1":5.98,"snr":1.7},{"t0":2.95,"t1":2,"h0":4.89,"h1":5.61,"snr":3.2},{"t0":2.95,"t1":2,"h0":3.28,"h1":4.89,"snr":4.5},{"t0":2.95,"t1":2,"h0":3.20,"h1":3.28,"snr":6.3},{"t0":2.95,"t1":2,"h0":3.06,"h1":3.20,"snr":8.75},{"t0":2.95,"t1":2,"h0":2.55,"h1":3.06,"snr":16.25},{"t0":2.95,"t1":2,"h0":2.17,"h1":2.55,"snr":18.75},{"t0":2.95,"t1":2,"h0":1.73,"h1":2.17,"snr":23.75},{"t0":2.95,"t1":2,"h0":1.30,"h1":1.73,"snr":26.25},{"t0":2.95,"t1":2,"h0":0.624,"h1":1.30,"snr":23.75},
      {"t0":2,"t1":0.95,"h0":8.46,"h1":8.578,"snr":-0.3},{"t0":2,"t1":0.95,"h0":8.41,"h1":8.46,"snr":-2.8},{"t0":2,"t1":0.95,"h0":8.35,"h1":8.41,"snr":-0.3},{"t0":2,"t1":0.95,"h0":7.45,"h1":8.35,"snr":-2.8},{"t0":2,"t1":0.95,"h0":7.23,"h1":7.45,"snr":-0.3},{"t0":2,"t1":0.95,"h0":6.75,"h1":7.23,"snr":1.7},{"t0":2,"t1":0.95,"h0":6.43,"h1":6.75,"snr":3.2},{"t0":2,"t1":0.95,"h0":6.14,"h1":6.43,"snr":4.5},{"t0":2,"t1":0.95,"h0":5.90,"h1":6.14,"snr":6.3},{"t0":2,"t1":0.95,"h0":4.96,"h1":5.90,"snr":8.75},{"t0":2,"t1":0.95,"h0":4.43,"h1":4.96,"snr":11.25},{"t0":2,"t1":0.95,"h0":4.17,"h1":4.43,"snr":6.3},{"t0":2,"t1":0.95,"h0":3.88,"h1":4.17,"snr":3.2},{"t0":2,"t1":0.95,"h0":3.47,"h1":3.88,"snr":1.7},{"t0":2,"t1":0.95,"h0":2.94,"h1":3.47,"snr":-0.3},{"t0":2,"t1":0.95,"h0":2.70,"h1":2.94,"snr":1.7},{"t0":2,"t1":0.95,"h0":2.46,"h1":2.70,"snr":3.2},{"t0":2,"t1":0.95,"h0":2.14,"h1":2.46,"snr":4.5},{"t0":2,"t1":0.95,"h0":2.09,"h1":2.14,"snr":3.2},{"t0":2,"t1":0.95,"h0":1.925,"h1":2.09,"snr":6.3},{"t0":2,"t1":0.95,"h0":1.73,"h1":1.925,"snr":11.25},{"t0":2,"t1":0.95,"h0":1.54,"h1":1.73,"snr":13.75},{"t0":2,"t1":0.95,"h0":1.35,"h1":1.54,"snr":16.25},{"t0":2,"t1":0.95,"h0":1.20,"h1":1.35,"snr":18.75},{"t0":2,"t1":0.95,"h0":0.91,"h1":1.20,"snr":21.25},{"t0":2,"t1":0.95,"h0":0.82,"h1":0.91,"snr":16.25},{"t0":2,"t1":0.95,"h0":0.624,"h1":0.82,"snr":21.25},
      {"t0":0.95,"t1":0,"h0":8.44,"h1":8.578,"snr":-16},{"t0":0.95,"t1":0,"h0":8.05,"h1":8.44,"snr":-13.3},{"t0":0.95,"t1":0,"h0":7.93,"h1":8.05,"snr":-10.7},{"t0":0.95,"t1":0,"h0":7.57,"h1":7.93,"snr":-8},{"t0":0.95,"t1":0,"h0":7.34,"h1":7.57,"snr":-5.3},{"t0":0.95,"t1":0,"h0":7.04,"h1":7.34,"snr":-2.8},{"t0":0.95,"t1":0,"h0":6.92,"h1":7.04,"snr":-0.3},{"t0":0.95,"t1":0,"h0":6.75,"h1":6.92,"snr":1.7},{"t0":0.95,"t1":0,"h0":6.31,"h1":6.75,"snr":3.2},{"t0":0.95,"t1":0,"h0":5.95,"h1":6.31,"snr":4.5},{"t0":0.95,"t1":0,"h0":5.13,"h1":5.95,"snr":6.3},{"t0":0.95,"t1":0,"h0":4.55,"h1":5.13,"snr":8.75},{"t0":0.95,"t1":0,"h0":4.43,"h1":4.55,"snr":3.2},{"t0":0.95,"t1":0,"h0":4.34,"h1":4.43,"snr":1.7},{"t0":0.95,"t1":0,"h0":4.24,"h1":4.34,"snr":-0.3},{"t0":0.95,"t1":0,"h0":4.14,"h1":4.24,"snr":-2.8},{"t0":0.95,"t1":0,"h0":4.05,"h1":4.14,"snr":-10.7},{"t0":0.95,"t1":0,"h0":3.76,"h1":4.05,"snr":-16},{"t0":0.95,"t1":0,"h0":2.89,"h1":3.76,"snr":-8},{"t0":0.95,"t1":0,"h0":2.65,"h1":2.89,"snr":-10.7},{"t0":0.95,"t1":0,"h0":2.46,"h1":2.65,"snr":-8},{"t0":0.95,"t1":0,"h0":2.29,"h1":2.46,"snr":-2.8},{"t0":0.95,"t1":0,"h0":2.09,"h1":2.29,"snr":1.7},{"t0":0.95,"t1":0,"h0":1.85,"h1":2.09,"snr":3.2},{"t0":0.95,"t1":0,"h0":1.54,"h1":1.85,"snr":4.5},{"t0":0.95,"t1":0,"h0":1.03,"h1":1.54,"snr":6.3},{"t0":0.95,"t1":0,"h0":0.91,"h1":1.03,"snr":4.5},{"t0":0.95,"t1":0,"h0":0.624,"h1":0.91,"snr":6.3}
    ],
    "colorbar": [
      {"lo":-30,"hi":-27.6,"snr":-28.75},{"lo":-27.6,"hi":-25,"snr":-26.25},{"lo":-25,"hi":-22.5,"snr":-23.75},{"lo":-22.5,"hi":-20,"snr":-21.25},{"lo":-20,"hi":-17.3,"snr":-18.75},{"lo":-17.3,"hi":-14.6,"snr":-16},{"lo":-14.6,"hi":-12,"snr":-13.3},{"lo":-12,"hi":-9.4,"snr":-10.7},{"lo":-9.4,"hi":-6.6,"snr":-8},{"lo":-6.6,"hi":-4.1,"snr":-5.3},{"lo":-4.1,"hi":-1.6,"snr":-2.8},{"lo":-1.6,"hi":0.9,"snr":-0.3},{"lo":0.9,"hi":2.5,"snr":1.7},{"lo":2.5,"hi":3.8,"snr":3.2},{"lo":3.8,"hi":5.2,"snr":4.5},{"lo":5.2,"hi":7.7,"snr":6.3},{"lo":7.7,"hi":10,"snr":8.75},{"lo":10,"hi":12.5,"snr":11.25},{"lo":12.5,"hi":15,"snr":13.75},{"lo":15,"hi":17.5,"snr":16.25},{"lo":17.5,"hi":20,"snr":18.75},{"lo":20,"hi":22.5,"snr":21.25},{"lo":22.5,"hi":25,"snr":23.75},{"lo":25,"hi":27.5,"snr":26.25},{"lo":27.5,"hi":30,"snr":28.75},{"lo":30,"hi":32.5,"snr":31.25},{"lo":32.5,"hi":35,"snr":33.75},{"lo":35,"hi":37.5,"snr":36.25},{"lo":37.5,"hi":40.2,"snr":38.75}
    ],
    "isotope": [
      {"t":19,"d":-26.0,"seg":"a"},{"t":18.5,"d":-21.25,"seg":"a"},{"t":18,"d":-20.5,"seg":"a"},{"t":17.5,"d":-21.75,"seg":"a"},{"t":17,"d":-22.95,"seg":"a"},{"t":16.5,"d":-22.14,"seg":"a"},{"t":16,"d":-23.43,"seg":"a"},{"t":15.5,"d":-24.83,"seg":"a"},{"t":15,"d":-28.9,"seg":"a"},{"t":14.5,"d":-30.38,"seg":"a"},{"t":14,"d":-32.6,"seg":"a"},{"t":13.5,"d":-22.6,"seg":"a"},{"t":13,"d":-24.44,"seg":"a"},{"t":12.5,"d":-26.82,"seg":"a"},{"t":12,"d":-26.73,"seg":"a"},{"t":11.5,"d":-26.93,"seg":"a"},{"t":11,"d":-31.0,"seg":"a"},{"t":10.5,"d":-29.77,"seg":"a"},{"t":10,"d":-23.15,"seg":"a"},
      {"t":9.5,"d":-24.44,"seg":"b"},{"t":8.5,"d":-24.92,"seg":"c"},
      {"t":8,"d":-27.63,"seg":"d"},{"t":7.5,"d":-30.6,"seg":"d"},{"t":7,"d":-31.89,"seg":"d"},{"t":6.5,"d":-34.5,"seg":"d"},{"t":6,"d":-28.4,"seg":"d"},{"t":5.5,"d":-31.0,"seg":"d"},{"t":5,"d":-30.93,"seg":"d"},{"t":4.5,"d":-35.98,"seg":"d"},{"t":4,"d":-30.1,"seg":"d"},{"t":3.5,"d":-33.1,"seg":"d"},{"t":3,"d":-29.29,"seg":"d"},{"t":2.6,"d":-30.0,"seg":"d"}
    ],
    "raintype": [
      {"t":18.75,"d":-19.05,"kind":"without"},{"t":18.25,"d":-19.05,"kind":"without"},{"t":17.25,"d":-19.05,"kind":"without"},{"t":16.75,"d":-19.05,"kind":"without"},{"t":15.25,"d":-19.05,"kind":"with"},{"t":14.75,"d":-19.05,"kind":"with"},{"t":14.25,"d":-19.05,"kind":"with"},{"t":13.75,"d":-19.05,"kind":"with"},{"t":11.75,"d":-19.05,"kind":"without"},{"t":11.25,"d":-19.05,"kind":"without"},{"t":10.75,"d":-19.05,"kind":"with"},{"t":10.25,"d":-19.05,"kind":"with"},{"t":7.75,"d":-19.05,"kind":"without"},{"t":7.25,"d":-19.05,"kind":"without"},{"t":6.75,"d":-19.05,"kind":"without"},{"t":6.25,"d":-19.05,"kind":"with"},{"t":5.75,"d":-19.05,"kind":"with"},{"t":5.25,"d":-19.05,"kind":"without"},{"t":4.75,"d":-19.05,"kind":"with"},{"t":4.25,"d":-19.05,"kind":"convection"},{"t":3.75,"d":-19.05,"kind":"without"},{"t":3.25,"d":-19.05,"kind":"without"},{"t":2.75,"d":-19.05,"kind":"without"},{"t":2.25,"d":-19.05,"kind":"without"},
      {"t":-0.75,"d":-19.05,"kind":"with"},{"t":-0.75,"d":-24.02,"kind":"without"},{"t":-0.75,"d":-28.9,"kind":"convection"}
    ],
    "rainfall": [
      {"t0":20,"t1":19,"mm":0.26},{"t0":19,"t1":18,"mm":0.77},{"t0":18,"t1":17,"mm":0.77},{"t0":17,"t1":16,"mm":0.77},{"t0":16,"t1":15,"mm":1.8},{"t0":15,"t1":14,"mm":1.03},{"t0":14,"t1":13,"mm":0.53},{"t0":13,"t1":12,"mm":0.26},{"t0":12,"t1":11,"mm":2.3},{"t0":11,"t1":10,"mm":1.55},{"t0":10,"t1":9,"mm":0.26},{"t0":9,"t1":8,"mm":0.26},{"t0":8,"t1":7,"mm":2.05},{"t0":7,"t1":6,"mm":5.1},{"t0":6,"t1":5,"mm":6.87},{"t0":5,"t1":4,"mm":6.87},{"t0":4,"t1":3,"mm":3.57},{"t0":3,"t1":2,"mm":1.55},{"t0":2,"t1":1,"mm":0.26}
    ],
    "periods": [
      {"t0":19.18,"t1":13.87,"kind":"LR"},{"t0":13.87,"t1":12.89,"kind":"HR"},{"t0":12.08,"t1":11.03,"kind":"LR"},{"t0":11.03,"t1":10.03,"kind":"HR"}
    ]
  },
  "vconcat": [
    {
      "width": 515,
      "height": 550,
      "resolve": {"scale": {"y": "independent"}, "axis": {"x": "independent", "y": "independent"}},
      "layer": [
        {
          "data": {"name": "cells"},
          "mark": {"type": "rect", "strokeWidth": 0.7},
          "encoding": {
            "x": {"field": "t0", "type": "quantitative", "scale": {"domain": [20, 0], "nice": false, "zero": false}, "axis": {"values": [20,18,16,14,12,10,8,6,4,2,0], "labels": false, "tickSize": 10, "tickWidth": 1.5, "domainWidth": 1.5, "zindex": 1}},
            "x2": {"field": "t1"},
            "y": {"field": "h0", "type": "quantitative", "scale": {"domain": [0.624, 8.578], "nice": false, "zero": false}, "axis": {"orient": "left", "values": [1,2,3,4,5,6,7,8], "tickSize": -20, "labelPadding": 45, "zindex": 1}},
            "y2": {"field": "h1"},
            "color": {
              "field": "snr",
              "type": "quantitative",
              "legend": null,
              "scale": {
                "type": "threshold",
                "domain": [-27.6,-25,-22.5,-20,-17.3,-14.6,-12,-9.4,-6.6,-4.1,-1.6,0.9,2.5,3.8,5.2,7.7,10,12.5,15,17.5,20,22.5,25,27.5,30,32.5,35,37.5],
                "range": ["#0000DC","#0050E8","#0070F0","#0078F0","#0084E8","#0098E8","#00BBF0","#30C4EA","#10D8B8","#0CD890","#0EDC0E","#66DD00","#9CDD00","#BEEB00","#D8FF38","#E4FF78","#FFF860","#FFF000","#FFD800","#FFBE00","#FFA500","#FF9000","#FF8000","#FF6A00","#FF5500","#F50000","#DC0000","#C40000","#A80000"]
              }
            },
            "stroke": {
              "field": "snr",
              "type": "quantitative",
              "legend": null,
              "scale": {
                "type": "threshold",
                "domain": [-27.6,-25,-22.5,-20,-17.3,-14.6,-12,-9.4,-6.6,-4.1,-1.6,0.9,2.5,3.8,5.2,7.7,10,12.5,15,17.5,20,22.5,25,27.5,30,32.5,35,37.5],
                "range": ["#0000DC","#0050E8","#0070F0","#0078F0","#0084E8","#0098E8","#00BBF0","#30C4EA","#10D8B8","#0CD890","#0EDC0E","#66DD00","#9CDD00","#BEEB00","#D8FF38","#E4FF78","#FFF860","#FFF000","#FFD800","#FFBE00","#FFA500","#FF9000","#FF8000","#FF6A00","#FF5500","#F50000","#DC0000","#C40000","#A80000"]
              }
            }
          }
        },
        {
          "data": {"name": "colorbar"},
          "mark": {"type": "rect", "strokeWidth": 0.7},
          "encoding": {
            "x": {"datum": -1.25, "type": "quantitative", "axis": null},
            "x2": {"datum": -2.2},
            "y": {"field": "lo", "type": "quantitative", "scale": {"domain": [-30, 40], "range": [506, 40], "nice": false, "zero": false}, "axis": {"orient": "right", "offset": 58, "values": [-30,-20,-10,0,10,20,30,40], "tickSize": 11, "labelPadding": 7, "zindex": 1}},
            "y2": {"field": "hi"},
            "color": {
              "field": "snr",
              "type": "quantitative",
              "legend": null,
              "scale": {
                "type": "threshold",
                "domain": [-27.6,-25,-22.5,-20,-17.3,-14.6,-12,-9.4,-6.6,-4.1,-1.6,0.9,2.5,3.8,5.2,7.7,10,12.5,15,17.5,20,22.5,25,27.5,30,32.5,35,37.5],
                "range": ["#0000DC","#0050E8","#0070F0","#0078F0","#0084E8","#0098E8","#00BBF0","#30C4EA","#10D8B8","#0CD890","#0EDC0E","#66DD00","#9CDD00","#BEEB00","#D8FF38","#E4FF78","#FFF860","#FFF000","#FFD800","#FFBE00","#FFA500","#FF9000","#FF8000","#FF6A00","#FF5500","#F50000","#DC0000","#C40000","#A80000"]
              }
            },
            "stroke": {
              "field": "snr",
              "type": "quantitative",
              "legend": null,
              "scale": {
                "type": "threshold",
                "domain": [-27.6,-25,-22.5,-20,-17.3,-14.6,-12,-9.4,-6.6,-4.1,-1.6,0.9,2.5,3.8,5.2,7.7,10,12.5,15,17.5,20,22.5,25,27.5,30,32.5,35,37.5],
                "range": ["#0000DC","#0050E8","#0070F0","#0078F0","#0084E8","#0098E8","#00BBF0","#30C4EA","#10D8B8","#0CD890","#0EDC0E","#66DD00","#9CDD00","#BEEB00","#D8FF38","#E4FF78","#FFF860","#FFF000","#FFD800","#FFBE00","#FFA500","#FF9000","#FF8000","#FF6A00","#FF5500","#F50000","#DC0000","#C40000","#A80000"]
              }
            }
          }
        },
        {
          "data": {"values": [{"t": -2.09, "s": 44.5, "label": "SNR"}, {"t": -1.98, "s": -33.8, "label": "(db)"}]},
          "mark": {"type": "text", "baseline": "middle"},
          "encoding": {
            "x": {"field": "t", "type": "quantitative", "axis": null},
            "y": {"field": "s", "type": "quantitative", "scale": {"domain": [-30, 40], "range": [506, 40], "nice": false, "zero": false}, "axis": null},
            "text": {"field": "label"}
          }
        },
        {
          "data": {"values": [{"t": 24.5, "h": 8.4, "label": "(a)"}]},
          "mark": {"type": "text", "align": "left", "baseline": "middle"},
          "encoding": {
            "x": {"field": "t", "type": "quantitative", "axis": null},
            "y": {"field": "h", "type": "quantitative", "scale": {"domain": [0.624, 8.578], "nice": false, "zero": false}, "axis": null},
            "text": {"field": "label"}
          }
        },
        {
          "data": {"values": [{"t": 22.45, "h": 4.37, "label": "Height MSL (km)"}]},
          "mark": {"type": "text", "angle": 270, "align": "center", "baseline": "alphabetic", "fontSize": 27},
          "encoding": {
            "x": {"field": "t", "type": "quantitative", "axis": null},
            "y": {"field": "h", "type": "quantitative", "scale": {"domain": [0.624, 8.578], "nice": false, "zero": false}, "axis": null},
            "text": {"field": "label"}
          }
        }
      ]
    },
    {
      "width": 515,
      "height": 315.5,
      "resolve": {"axis": {"x": "independent", "y": "independent"}},
      "layer": [
        {
          "data": {"name": "periods"},
          "mark": {"type": "rect"},
          "encoding": {
            "x": {"field": "t0", "type": "quantitative", "scale": {"domain": [20, 0], "nice": false, "zero": false}, "axis": null},
            "x2": {"field": "t1"},
            "y": {"datum": -40, "type": "quantitative", "scale": {"domain": [-40, -20], "range": [315.5, 11], "nice": false, "zero": false}, "axis": {"orient": "left", "values": [-20,-30,-40], "tickSize": -20, "labelPadding": 40, "zindex": 1}},
            "y2": {"datum": -20},
            "color": {"field": "kind", "type": "nominal", "legend": null, "scale": {"domain": ["LR", "HR"], "range": ["#C7F2FF", "#FFB9BC"]}}
          }
        },
        {
          "data": {"name": "isotope"},
          "mark": {"type": "line", "color": "#2A3CE8", "strokeWidth": 2},
          "encoding": {
            "x": {"field": "t", "type": "quantitative", "axis": null},
            "y": {"field": "d", "type": "quantitative", "axis": {"orient": "left", "values": [-25,-35], "tickSize": -12, "labels": false, "domain": false}},
            "detail": {"field": "seg"}
          }
        },
        {
          "data": {"name": "isotope"},
          "mark": {"type": "point", "filled": true, "opacity": 1, "color": "#0000F0", "size": 125},
          "encoding": {
            "x": {"field": "t", "type": "quantitative", "axis": null},
            "y": {"field": "d", "type": "quantitative", "axis": {"orient": "right", "values": [-20,-30,-40], "tickSize": -20, "labels": false}}
          }
        },
        {
          "data": {"name": "raintype"},
          "mark": {"type": "point", "shape": "square", "fill": "white", "fillOpacity": 1, "opacity": 1, "size": 81, "strokeWidth": 4},
          "encoding": {
            "x": {"field": "t", "type": "quantitative", "axis": null},
            "y": {"field": "d", "type": "quantitative", "axis": {"orient": "right", "values": [-25,-35], "tickSize": -12, "labels": false, "domain": false}},
            "stroke": {"field": "kind", "type": "nominal", "legend": null, "scale": {"domain": ["with", "without", "convection"], "range": ["#FA0000", "#0000F0", "#C8C832"]}}
          }
        },
        {
          "data": {"values": [
            {"t": 16.52, "d": -32.9, "label": "LR"}, {"t": 11.53, "d": -32.84, "label": "LR"}, {"t": 13.34, "d": -35.4, "label": "HR"}, {"t": 10.52, "d": -35.0, "label": "HR"}
          ]},
          "mark": {"type": "text", "baseline": "middle"},
          "encoding": {
            "x": {"field": "t", "type": "quantitative", "axis": null},
            "y": {"field": "d", "type": "quantitative", "axis": null},
            "text": {"field": "label"}
          }
        },
        {
          "data": {"values": [
            {"t": 24.47, "d": -19.05, "label": "(b)"},
            {"t": -1.65, "d": -18.9, "label": "rain with a radar"},
            {"t": -1.65, "d": -21.2, "label": "brightband signature"},
            {"t": -1.65, "d": -23.85, "label": "rain without a radar"},
            {"t": -1.65, "d": -26.15, "label": "brightband signature"},
            {"t": -1.65, "d": -28.8, "label": "convection rain"}
          ]},
          "mark": {"type": "text", "align": "left", "baseline": "middle"},
          "encoding": {
            "x": {"field": "t", "type": "quantitative", "axis": null},
            "y": {"field": "d", "type": "quantitative", "axis": null},
            "text": {"field": "label"}
          }
        },
        {
          "data": {"values": [{"t": 23.77, "d": -38.82, "label": "δ²H"}, {"t": 23.73, "d": -30.67, "label": "(‰)"}]},
          "mark": {"type": "text", "angle": 270, "align": "left", "baseline": "alphabetic", "fontSize": 28},
          "encoding": {
            "x": {"field": "t", "type": "quantitative", "axis": null},
            "y": {"field": "d", "type": "quantitative", "axis": null},
            "text": {"field": "label"}
          }
        },
        {
          "data": {"values": [{"t": 23.34, "d": -35.66, "label": "VSMOW"}]},
          "mark": {"type": "text", "angle": 270, "align": "left", "baseline": "alphabetic", "fontSize": 17},
          "encoding": {
            "x": {"field": "t", "type": "quantitative", "axis": null},
            "y": {"field": "d", "type": "quantitative", "axis": null},
            "text": {"field": "label"}
          }
        }
      ]
    },
    {
      "width": 515,
      "height": 184,
      "resolve": {"axis": {"x": "independent", "y": "independent"}},
      "layer": [
        {
          "data": {"name": "periods"},
          "mark": {"type": "rect"},
          "encoding": {
            "x": {"field": "t0", "type": "quantitative", "scale": {"domain": [20, 0], "nice": false, "zero": false}, "axis": {"values": [20,18,16,14,12,10,8,6,4,2,0], "tickSize": 11, "labelPadding": 19, "labelFlush": false, "domainWidth": 2.5, "zindex": 1}},
            "x2": {"field": "t1"},
            "y": {"datum": -0.7, "type": "quantitative", "scale": {"domain": [0, 8], "nice": false, "zero": false}, "axis": {"orient": "left", "values": [0,2,4,6,8], "tickSize": -20, "labelPadding": 40, "zindex": 1}},
            "y2": {"datum": 9.46},
            "color": {"field": "kind", "type": "nominal", "legend": null, "scale": {"domain": ["LR", "HR"], "range": ["#C7F2FF", "#FFB9BC"]}}
          }
        },
        {
          "data": {"name": "rainfall"},
          "mark": {"type": "rect", "fill": "#B0B0B0", "stroke": "#9A9A9A", "strokeWidth": 1},
          "encoding": {
            "x": {"field": "t0", "type": "quantitative", "axis": null},
            "x2": {"field": "t1"},
            "y": {"field": "mm", "type": "quantitative", "axis": {"orient": "right", "values": [0,2,4,6,8], "tickSize": -20, "labels": false, "zindex": 1}},
            "y2": {"datum": 0}
          }
        },
        {
          "data": {"values": [
            {"t": 8.97, "mm": -3.48, "label": "Time, UTC (h)"},
            {"t": 19.96, "mm": -4.22, "label": "26 Jan 2005"},
            {"t": -1.65, "mm": -4.22, "label": "26 Jan 2005"},
            {"t": -4.81, "mm": 0.87, "label": "Cazadero, CA"}
          ]},
          "mark": {"type": "text", "baseline": "middle"},
          "encoding": {
            "x": {"field": "t", "type": "quantitative", "axis": null},
            "y": {"field": "mm", "type": "quantitative", "axis": null},
            "text": {"field": "label"}
          }
        },
        {
          "data": {"values": [{"t": 13.94, "mm": -3.48, "label": "⟵"}]},
          "mark": {"type": "text", "baseline": "middle", "font": "DejaVu Sans", "fontSize": 29},
          "encoding": {
            "x": {"field": "t", "type": "quantitative", "axis": null},
            "y": {"field": "mm", "type": "quantitative", "axis": null},
            "text": {"field": "label"}
          }
        },
        {
          "data": {"values": [{"t": 24.47, "mm": 8.57, "label": "(c)"}]},
          "mark": {"type": "text", "align": "left", "baseline": "middle"},
          "encoding": {
            "x": {"field": "t", "type": "quantitative", "axis": null},
            "y": {"field": "mm", "type": "quantitative", "axis": null},
            "text": {"field": "label"}
          }
        },
        {
          "data": {"values": [{"t": 22.49, "mm": 3.91, "label": "Rainfall (mm)"}]},
          "mark": {"type": "text", "angle": 270, "align": "center", "baseline": "alphabetic", "fontSize": 29},
          "encoding": {
            "x": {"field": "t", "type": "quantitative", "axis": null},
            "y": {"field": "mm", "type": "quantitative", "axis": null},
            "text": {"field": "label"}
          }
        }
      ]
    }
  ]
}
